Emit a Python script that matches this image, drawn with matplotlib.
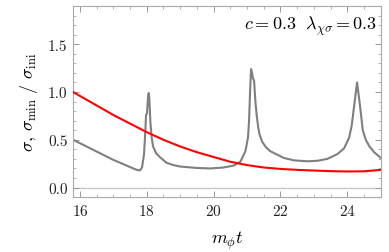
import numpy as np
import matplotlib
matplotlib.use("Agg")
import matplotlib.pyplot as plt
from matplotlib.ticker import MultipleLocator

plt.rcParams['font.family'] = ['cmr10', 'DejaVu Serif']
plt.rcParams['mathtext.fontset'] = 'cm'
plt.rcParams['axes.formatter.use_mathtext'] = True

# sigma (gray)
t_sig = [15.8, 16.2, 16.6, 17.0, 17.4, 17.7, 17.8, 17.86, 17.92, 17.96, 17.98,
         18.01, 18.04, 18.06, 18.08, 18.11, 18.15, 18.19, 18.28, 18.39, 18.59,
         18.8, 19.0, 19.5, 19.9, 20.3, 20.6, 20.8, 20.95, 21.0, 21.03, 21.06,
         21.09, 21.12, 21.15, 21.18, 21.21, 21.25, 21.29, 21.33, 21.37, 21.45,
         21.57, 21.7, 21.87, 22.1, 22.4, 22.8, 23.1, 23.4, 23.7, 23.9, 24.05,
         24.13, 24.2, 24.29, 24.38, 24.46, 24.55, 24.66, 24.8, 25.0]
sig = [0.50, 0.43, 0.36, 0.29, 0.23, 0.185, 0.18, 0.21, 0.35, 0.60, 0.76,
       0.78, 0.95, 0.99, 0.92, 0.68, 0.52, 0.43, 0.36, 0.32, 0.26,
       0.235, 0.22, 0.205, 0.20, 0.21, 0.23, 0.27, 0.38, 0.47, 0.53, 0.70,
       1.00, 1.24, 1.20, 1.14, 1.12, 0.90, 0.75, 0.64, 0.56, 0.48,
       0.42, 0.38, 0.35, 0.31, 0.285, 0.275, 0.28, 0.30, 0.35, 0.41, 0.52,
       0.65, 0.85, 1.10, 0.85, 0.60, 0.50, 0.43, 0.37, 0.31]

# sigma_min (red)
t_min = [15.8, 16.5, 17.0, 17.5, 18.0, 18.5, 19.0, 19.5, 20.0, 20.5, 21.0,
         21.5, 22.0, 22.5, 23.0, 23.5, 24.0, 24.5, 25.0]
sig_min = [1.0, 0.86, 0.76, 0.67, 0.58, 0.50, 0.43, 0.37, 0.32, 0.27, 0.235,
           0.21, 0.195, 0.185, 0.178, 0.172, 0.168, 0.170, 0.185]

fig = plt.figure(figsize=(3.89, 2.53), dpi=100, facecolor='w')
ax = fig.add_axes([0.188, 0.217, 0.791, 0.755])

ax.axhline(0, color='#c8c8c8', lw=1.0, zorder=1)
ax.plot(t_sig, sig, color='#7f7f7f', lw=1.5, zorder=2)
ax.plot(t_min, sig_min, color='#ff0000', lw=1.5, zorder=3)

ax.set_xlim(15.8, 25.0)
ax.set_ylim(-0.1, 1.9)
ax.xaxis.set_major_locator(MultipleLocator(2))
ax.xaxis.set_minor_locator(MultipleLocator(0.5))
ax.yaxis.set_major_locator(MultipleLocator(0.5))
ax.yaxis.set_minor_locator(MultipleLocator(0.1))
ax.set_yticks([0.0, 0.5, 1.0, 1.5])
ax.set_yticklabels(['0.0', '0.5', '1.0', '1.5'])

for s in ax.spines.values():
    s.set_color('#aaaaaa')
    s.set_linewidth(0.8)
ax.tick_params(which='both', direction='in', top=True, right=True,
               color='#999999', labelsize=11, labelcolor='#222222')
ax.tick_params(which='major', length=4, width=0.7, pad=4)
ax.tick_params(which='minor', length=2, width=0.5)

ax.set_xlabel(r'$m_\phi t$', fontsize=13, labelpad=8)
ax.set_ylabel(r'$\sigma,\,\sigma_{\rm min}\ /\ \sigma_{\rm ini}$', fontsize=13,
              labelpad=6)
ax.text(0.987, 0.96, r'$c = 0.3\ \ \lambda_{\chi\sigma} = 0.3$',
        transform=ax.transAxes, ha='right', va='top', fontsize=13)

fig.savefig('out.png', dpi=100, facecolor='w')
